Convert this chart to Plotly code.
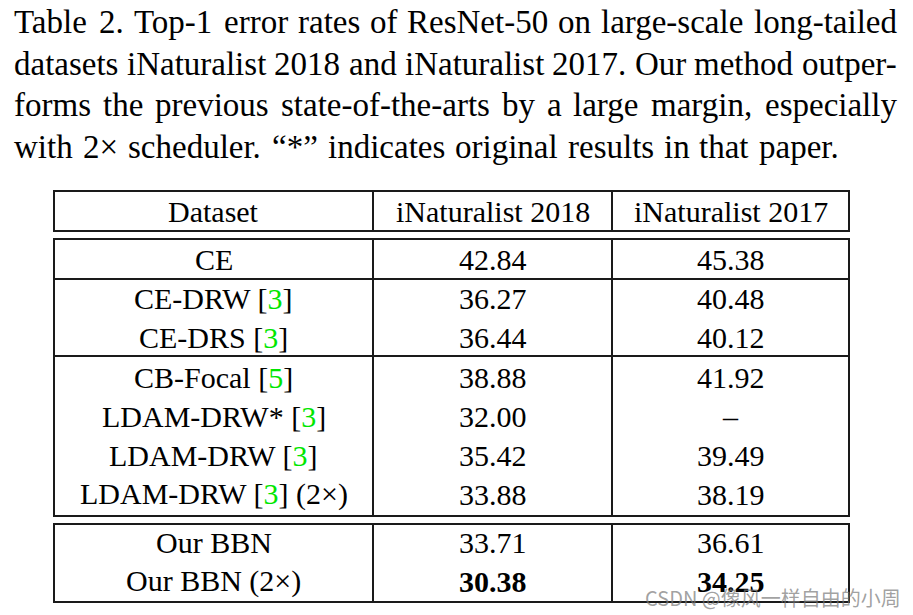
import plotly.graph_objects as go

# ---------------- data ----------------
caption_lines = [
    "Table 2. Top-1 error rates of ResNet-50 on large-scale long-tailed",
    "datasets iNaturalist 2018 and iNaturalist 2017. Our method outper-",
    "forms the previous state-of-the-arts by a large margin, especially",
    "with 2\u00d7 scheduler. \u201c*\u201d indicates original results in that paper.",
]
caption_justified = [True, True, True, False]
header = ["Dataset", "iNaturalist 2018", "iNaturalist 2017"]
methods = ["CE", "CE-DRW", "CE-DRS", "CB-Focal", "LDAM-DRW*", "LDAM-DRW", "LDAM-DRW", "Our BBN", "Our BBN"]
citations = ["", "3", "3", "5", "3", "3", "3", "", ""]
suffixes = ["", "", "", "", "", "", " (2\u00d7)", "", " (2\u00d7)"]
inat2018 = ["42.84", "36.27", "36.44", "38.88", "32.00", "35.42", "33.88", "33.71", "30.38"]
inat2017 = ["45.38", "40.48", "40.12", "41.92", "\u2013", "39.49", "38.19", "36.61", "34.25"]
bold_2018 = [False] * 8 + [True]
bold_2017 = [False] * 8 + [True]
watermark = "CSDN @\u50cf\u98ce\u4e00\u6837\u81ea\u7531\u7684\u5c0f\u5468"

# ---------------- layout geometry ----------------
W, H = 913, 615
OFF = 8  # page body margin
SERIF = "Liberation Serif, Times New Roman, serif"
LINE = "#1a1a1a"
GREEN = "#00e600"

# Times advance widths (1/1000 em) used to justify the caption like the typeset original
TW = {" ": 250, ".": 250, ",": 250, "-": 333, "*": 500, "\u00d7": 564, "\u201c": 444, "\u201d": 444,
      "A": 722, "N": 722, "O": 722, "R": 667, "T": 611}
TW.update({d: 500 for d in "0123456789"})
TW.update(dict(zip("abcdefghijklmnopqrstuvwxyz",
                   [444, 500, 444, 500, 444, 333, 500, 500, 278, 278, 500, 278, 778,
                    500, 500, 500, 500, 333, 389, 278, 500, 500, 722, 500, 500, 444])))

def text_w(s, size):
    return sum(TW.get(c, 500) for c in s) / 1000.0 * size

FS_CAP = 33
CAP_L, CAP_R = 14, 897
cap_y = [22, 64, 105, 147]
GAP_FREE = 9.9  # interword space of the ragged last line
PAD = 2         # default annotation border + pad

x_left, x_c1, x_c2, x_right = 54, 373, 612, 849
col_centers = [(x_left + x_c1) / 2, (x_c1 + x_c2) / 2, (x_c2 + x_right) / 2]

header_top, header_bot = 191, 231
box2_top, box2_bot = 239, 516
box3_top, box3_bot = 524, 602
inner_lines = [279, 356]
row_centers = [259, 298, 337, 377, 416, 455, 494, 542, 581]
header_center = 211

fig = go.Figure()
fig.add_trace(go.Scatter(x=[OFF, W], y=[OFF, H], mode="markers",
                         marker=dict(opacity=0), hoverinfo="skip", showlegend=False))

shapes = []
def box(y0, y1):
    shapes.append(dict(type="rect", xref="x", yref="y", x0=x_left, x1=x_right, y0=y0, y1=y1,
                       line=dict(color=LINE, width=2)))
def hline(y):
    shapes.append(dict(type="line", xref="x", yref="y", x0=x_left, x1=x_right, y0=y, y1=y,
                       line=dict(color=LINE, width=2)))
def vline(x, y0, y1):
    shapes.append(dict(type="line", xref="x", yref="y", x0=x, x1=x, y0=y0, y1=y1,
                       line=dict(color=LINE, width=2)))

for (a, b) in [(header_top, header_bot), (box2_top, box2_bot), (box3_top, box3_bot)]:
    box(a, b)
    vline(x_c1, a, b)
    vline(x_c2, a, b)
for y in inner_lines:
    hline(y)

annotations = []
for line, just, y in zip(caption_lines, caption_justified, cap_y):
    words = line.split(" ")
    widths = [text_w(w, FS_CAP) for w in words]
    if just:
        gap = (CAP_R - CAP_L - sum(widths)) / (len(words) - 1)
    else:
        gap = GAP_FREE
    x = CAP_L
    for w, wd in zip(words, widths):
        annotations.append(dict(x=x - PAD, y=y, xref="x", yref="y", text=w, showarrow=False,
                                xanchor="left", yanchor="middle",
                                font=dict(family=SERIF, size=FS_CAP, color="#000")))
        x += wd + gap

FS = 30
for t, cx in zip(header, col_centers):
    annotations.append(dict(x=cx, y=header_center, xref="x", yref="y", text=t, showarrow=False,
                            xanchor="center", yanchor="middle",
                            font=dict(family=SERIF, size=FS, color="#000")))

for i, y in enumerate(row_centers):
    name = methods[i]
    if citations[i]:
        name += " [<span style='color:%s'>%s</span>]" % (GREEN, citations[i])
    name += suffixes[i]
    v18 = "<b>%s</b>" % inat2018[i] if bold_2018[i] else inat2018[i]
    v17 = "<b>%s</b>" % inat2017[i] if bold_2017[i] else inat2017[i]
    for t, cx in zip([name, v18, v17], col_centers):
        annotations.append(dict(x=cx, y=y, xref="x", yref="y", text=t, showarrow=False,
                                xanchor="center", yanchor="middle",
                                font=dict(family=SERIF, size=FS, color="#000")))

annotations.append(dict(x=903, y=597, xref="x", yref="y", text=watermark, showarrow=False,
                        xanchor="right", yanchor="middle",
                        font=dict(family="Noto Sans CJK SC, sans-serif", size=20,
                                  color="rgba(120,120,120,0.7)")))

fig.update_layout(
    width=W - OFF, height=H - OFF, margin=dict(l=0, r=0, t=0, b=0),
    paper_bgcolor="white", plot_bgcolor="white",
    xaxis=dict(range=[OFF, W], visible=False, fixedrange=True),
    yaxis=dict(range=[H, OFF], visible=False, fixedrange=True),
    shapes=shapes, annotations=annotations, showlegend=False,
)
fig.write_html("out.html")
